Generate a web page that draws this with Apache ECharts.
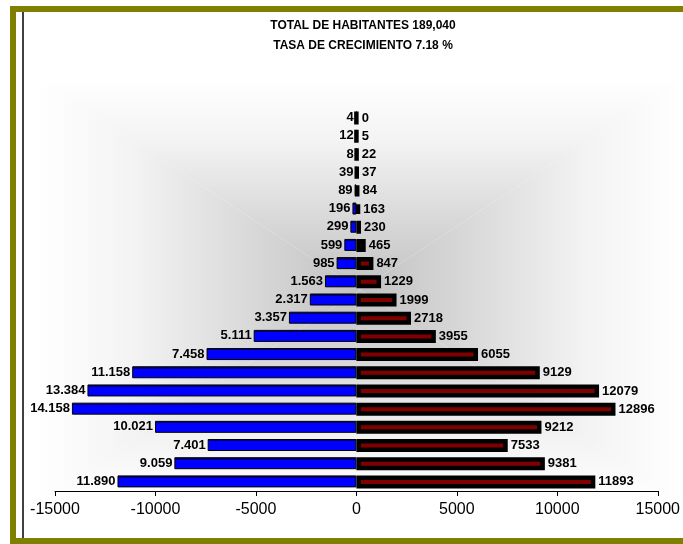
<!DOCTYPE html>
<html>
<head>
<meta charset="utf-8">
<script src="https://cdn.jsdelivr.net/npm/echarts@6/dist/echarts.min.js"></script>
<style>
    html, body { margin: 0; padding: 0; background: #fff; }
    #chart { width: 683px; height: 544px; }
</style>
</head>
<body>
<div id="chart"></div>
<script>
// grupos de edad, de abajo hacia arriba
var ageGroups = ['0-4', '5-9', '10-14', '15-19', '20-24', '25-29', '30-34', '35-39', '40-44', '45-49',
    '50-54', '55-59', '60-64', '65-69', '70-74', '75-79', '80-84', '85-89', '90-94', '95-99', '100+'];
var hombres = [11890, 9059, 7401, 10021, 14158, 13384, 11158, 7458, 5111, 3357,
    2317, 1563, 985, 599, 299, 196, 89, 39, 8, 12, 4];
var mujeres = [11893, 9381, 7533, 9212, 12896, 12079, 9129, 6055, 3955, 2718,
    1999, 1229, 847, 465, 230, 163, 84, 37, 22, 5, 0];
var xTicks = { min: -15000, max: 15000, step: 5000 };
var titleLines = ['TOTAL DE HABITANTES 189,040', 'TASA DE CRECIMIENTO 7.18 %'];

function puntos(n) {
    return String(n).replace(/\B(?=(\d{3})+(?!\d))/g, '.');
}

var chart = echarts.init(document.getElementById('chart'));
var olive = '#808000';
var fuente = 'Arial, Liberation Sans, sans-serif';

// fondo del area de trazado: degradado rectangular desde el centro (4 triangulos)
var fx0 = 38, fx1 = 682, fy0 = 78, fy1 = 502;
var fcx = (fx0 + fx1) / 2, fcy = (fy0 + fy1) / 2;
function degradado(x1, y1, x2, y2) {
    return new echarts.graphic.LinearGradient(x1, y1, x2, y2, [
        { offset: 0, color: '#ffffff' },
        { offset: 0.3, color: '#f3f3f3' },
        { offset: 0.7, color: '#d6d6d6' },
        { offset: 1, color: '#c2c2c2' }
    ], true);
}
var fondo = [
    { pts: [[fx0, fy0], [fx1, fy0], [fcx, fcy]], fill: degradado(fcx, fy0, fcx, fcy) },
    { pts: [[fx0, fy1], [fx1, fy1], [fcx, fcy]], fill: degradado(fcx, fy1, fcx, fcy) },
    { pts: [[fx0, fy0], [fx0, fy1], [fcx, fcy]], fill: degradado(fx0, fcy, fcx, fcy) },
    { pts: [[fx1, fy0], [fx1, fy1], [fcx, fcy]], fill: degradado(fx1, fcy, fcx, fcy) }
].map(function (t) {
    return { type: 'polygon', z: -10, silent: true, shape: { points: t.pts }, style: { fill: t.fill } };
});

chart.setOption({
    animation: false,
    backgroundColor: '#fff',
    title: {
        text: titleLines.join('\n'),
        left: 358,
        textAlign: 'center',
        top: 11,
        textStyle: {
            fontFamily: fuente,
            fontSize: 12,
            fontWeight: 'bold',
            color: '#000',
            lineHeight: 20
        }
    },
    graphic: fondo.concat([
        { type: 'rect', silent: true, shape: { x: 10, y: 6, width: 673, height: 6 }, style: { fill: olive } },
        { type: 'rect', silent: true, shape: { x: 10, y: 6, width: 6, height: 538 }, style: { fill: olive } },
        { type: 'rect', silent: true, shape: { x: 10, y: 538, width: 673, height: 6 }, style: { fill: olive } },
        { type: 'line', silent: true, shape: { x1: 23, y1: 12, x2: 23, y2: 538 }, style: { stroke: '#000', lineWidth: 1.5 } }
    ]),
    grid: {
        left: 55,
        right: 18,
        top: 109,
        bottom: 53
    },
    xAxis: {
        type: 'value',
        min: xTicks.min,
        max: xTicks.max,
        interval: xTicks.step,
        axisLine: { show: true, lineStyle: { color: '#000', width: 1 } },
        axisTick: { show: true, length: 5, lineStyle: { color: '#000' } },
        splitLine: { show: false },
        axisLabel: {
            margin: 11,
            color: '#000',
            fontSize: 16,
            fontFamily: fuente,
            formatter: function (v) { return String(v); }
        }
    },
    yAxis: {
        type: 'category',
        data: ageGroups,
        axisLine: { show: false },
        axisTick: { show: false },
        axisLabel: { show: false }
    },
    series: [
        {
            name: 'Hombres',
            type: 'bar',
            barWidth: 12,
            barGap: '-100%',
            data: hombres.map(function (v) { return -v; }),
            itemStyle: {
                color: new echarts.graphic.LinearGradient(0, 0, 0, 1, [
                    { offset: 0, color: '#000060' },
                    { offset: 0.2, color: '#000080' },
                    { offset: 0.2, color: '#0000ff' },
                    { offset: 1, color: '#0000ff' }
                ]),
                borderColor: '#000',
                borderWidth: 1
            },
            label: {
                show: true,
                position: 'left',
                distance: 2,
                color: '#000',
                fontSize: 13,
                fontWeight: 'bold',
                fontFamily: fuente,
                formatter: function (p) { return puntos(Math.abs(p.value)); }
            }
        },
        {
            name: 'Mujeres',
            type: 'bar',
            barWidth: 13,
            data: mujeres,
            itemStyle: {
                color: '#800000',
                borderColor: '#000',
                borderWidth: 4.5
            },
            label: {
                show: true,
                position: 'right',
                distance: 3,
                color: '#000',
                fontSize: 13,
                fontWeight: 'bold',
                fontFamily: fuente
            }
        }
    ]
});
</script>
</body>
</html>
